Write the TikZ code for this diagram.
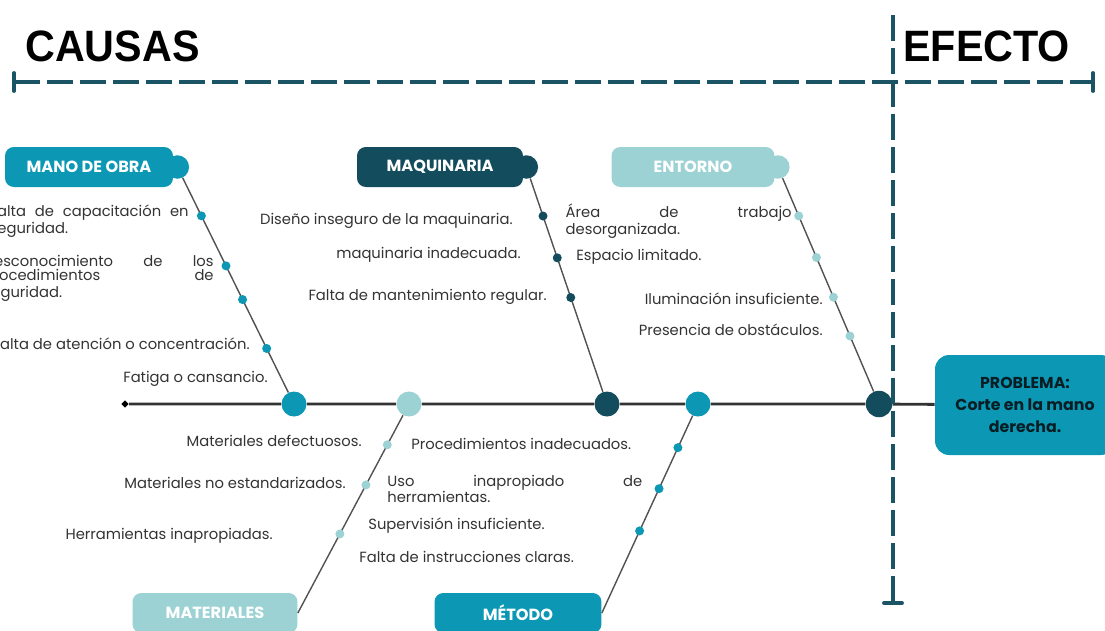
\documentclass[tikz,border=0pt]{standalone}
\usepackage{fontspec}
\setmainfont{Poppins}
\newfontfamily\headfont[FakeStretch=0.94]{Liberation Sans}
\usetikzlibrary{positioning}
\definecolor{tealdk}{RGB}{12,152,181}
\definecolor{navy}{RGB}{19,76,93}
\definecolor{tealsoft}{RGB}{156,210,212}
\definecolor{rulecol}{RGB}{27,84,101}
\definecolor{inkgray}{RGB}{51,51,51}

\begin{document}
\begin{tikzpicture}[x=0.02cm, y=-0.02cm, font=\fontsize{8.4}{8}\selectfont,
  tab/.style={rounded corners=5pt, minimum height=0.8cm, inner sep=0pt,
              text=white, font=\fontsize{9.2}{9.5}\selectfont\bfseries},
  bump/.style={circle, minimum size=0.47cm, inner sep=0pt},
  hub/.style={circle, minimum size=0.5cm, inner sep=0pt},
  dot/.style={circle, minimum size=0.18cm, inner sep=0pt},
  item/.style={inner sep=0pt, text=inkgray, align=left},
  branch/.style={draw=inkgray!85, line width=0.8pt},
  spine/.style={draw=inkgray, line width=1.6pt},
  guide/.style={draw=rulecol, line width=2.2pt, dash pattern=on 0.52cm off 0.14cm},
  endbar/.style={draw=rulecol, line width=2.2pt, line cap=round},
  heading/.style={inner sep=0pt, anchor=west, font=\headfont\fontsize{25}{25}\selectfont\bfseries}]

\useasboundingbox (0,0) rectangle (1105,630);

% --- headings ---
\node[heading] (causas) at (25,46) {CAUSAS};
\node[heading] (efecto) at (903,46) {EFECTO};

% --- problem box ---
\node[fill=tealdk, rounded corners=8pt, minimum width=3.6cm, minimum height=2cm,
      align=center, font=\fontsize{9}{12.3}\selectfont\bfseries, text=navy!40!black]
  (prob) at (1025,405) {PROBLEMA:\\Corte en la mano\\derecha.};

% --- category tabs ---
\node[tab, fill=tealdk,   minimum width=3.36cm] (mano) at (89,167)  {MANO DE OBRA};
\node[bump, fill=tealdk, xshift=0.08cm] (manob) at (mano.east) {};
\node[tab, fill=navy,     minimum width=3.32cm] (maq)  at (440,167) {MAQUINARIA};
\node[bump, fill=navy, xshift=0.06cm] (maqb) at (maq.east) {};
\node[tab, fill=tealsoft, minimum width=3.26cm] (ent)  at (693,167) {ENTORNO};
\node[bump, fill=tealsoft, xshift=0.06cm] (entb) at (ent.east) {};
\node[tab, fill=tealsoft, minimum width=3.3cm]  (mat)  at (215,613) {MATERIALES};
\node[tab, fill=tealdk,   minimum width=3.34cm] (met)  at (518,613) {MÉTODO};

% --- spine and hubs ---
\node[fill=black, rotate=45, minimum size=0.1cm, inner sep=0pt] (tail) at (125,404) {};
\node[hub, fill=tealdk]   (manoh) at (294,404) {};
\node[hub, fill=tealsoft] (math)  at (409,404) {};
\node[hub, fill=navy]     (maqh)  at (607,404) {};
\node[hub, fill=tealdk]   (meth)  at (698,404) {};
\node[hub, fill=navy, minimum size=0.53cm] (enth) at (879,404) {};
\draw[spine] (tail) -- (manoh) -- (math) -- (maqh) -- (meth) -- (enth) -- (prob);

% --- branches ---
\draw[branch] (manob) -- (manoh)
  \foreach \p/\n in {0.177/1,0.41/2,0.567/3,0.795/4}{ node[dot, fill=tealdk, pos=\p] (mano\n) {} };
\draw[branch] (maqb) -- (maqh)
  \foreach \p/\n in {0.176/1,0.372/2,0.558/3}{ node[dot, fill=navy, pos=\p] (maq\n) {} };
\draw[branch] (entb) -- (enth)
  \foreach \p/\n in {0.177/1,0.372/2,0.558/3,0.74/4}{ node[dot, fill=tealsoft, pos=\p] (ent\n) {} };
\draw[branch] (mat.east) -- (math)
  \foreach \p/\n in {0.40/1,0.648/2,0.851/3}{ node[dot, fill=tealsoft, pos=\p] (mat\n) {} };
\draw[branch] (met.east) -- (meth)
  \foreach \p/\n in {0.416/1,0.63/2,0.838/3}{ node[dot, fill=tealdk, pos=\p] (met\n) {} };

% --- causes: mano de obra ---
\node[item, text width=3.98cm, anchor=east] (mtx1) at (189,221) {Falta\hfill de\hfill capacitación\hfill en\\seguridad.};
\node[item, text width=4.6cm, anchor=east] (mtx2) at (214,278) {Desconocimiento\hfill de\hfill los\\procedimientos\hfill de\\seguridad.};
\node[item, anchor=east] (mtx3) at (250,344) {Falta de atención o concentración.};
\node[item, anchor=east] (mtx4) at (268,379) {Fatiga o cansancio.};

% --- causes: maquinaria ---
\node[item, anchor=east] (qtx1) at (513,221) {Diseño inseguro de la maquinaria.};
\node[item, anchor=east] (qtx2) at (521,255) {maquinaria inadecuada.};
\node[item, anchor=east] (qtx3) at (547,297) {Falta de mantenimiento regular.};

% --- causes: entorno ---
\node[item, text width=4.52cm, anchor=east] (etx1) at (792,221) {Área\hfill de\hfill trabajo\\desorganizada.};
\node[item, anchor=west] (etx2) at (576,257) {Espacio limitado.};
\node[item, anchor=east] (etx3) at (823,299) {Iluminación insuficiente.};
\node[item, anchor=east] (etx4) at (823,330) {Presencia de obstáculos.};

% --- causes: materiales ---
\node[item, anchor=east] (atx1) at (362,441) {Materiales defectuosos.};
\node[item, anchor=east] (atx2) at (346,483) {Materiales no estandarizados.};
\node[item, anchor=east] (atx3) at (273,536) {Herramientas inapropiadas.};

% --- causes: metodo ---
\node[item, anchor=west] (ttx1) at (411,444) {Procedimientos inadecuados.};
\node[item, text width=5.1cm, anchor=west] (ttx2) at (387,489) {Uso\hfill inapropiado\hfill de\\herramientas.};
\node[item, anchor=west] (ttx3) at (368,526) {Supervisión insuficiente.};
\node[item, anchor=west] (ttx4) at (359,557) {Falta de instrucciones claras.};

% --- causes / effect guides ---
\coordinate (gl) at (14,82);
\coordinate (gr) at (1093,82);
\coordinate (gt) at (893,15);
\coordinate (gb) at (893,603);
\draw[guide] (gl) -- (gr);
\draw[guide] (gt) -- (gb);
\draw[endbar] ([yshift=0.18cm]gl) -- ([yshift=-0.18cm]gl);
\draw[endbar] ([yshift=0.18cm]gr) -- ([yshift=-0.18cm]gr);
\draw[endbar] ([xshift=-0.18cm]gb) -- ([xshift=0.18cm]gb);
\end{tikzpicture}
\end{document}
